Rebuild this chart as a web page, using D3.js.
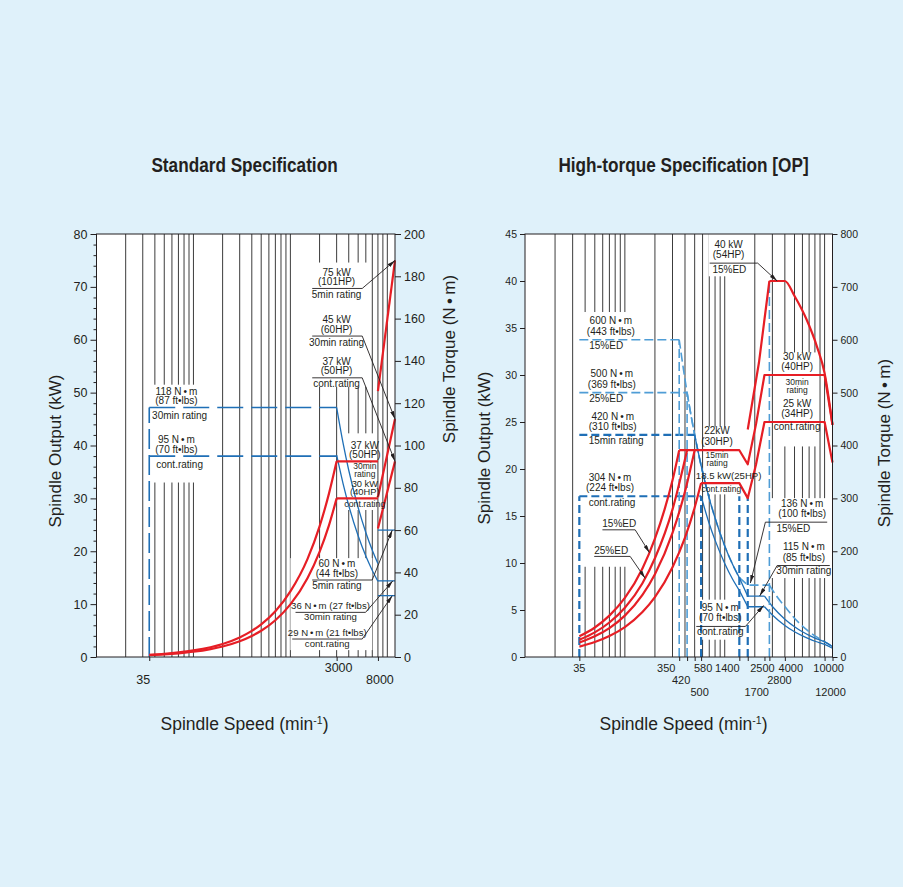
<!DOCTYPE html>
<html><head><meta charset="utf-8">
<script src="https://cdn.jsdelivr.net/npm/d3@7"></script>
<style>
html,body{margin:0;padding:0;background:#dff1fa;}
svg{display:block;}
text{font-family:"Liberation Sans",Arial,sans-serif;fill:#231f20;}
</style></head><body>
<svg id="c" width="903" height="887"></svg>
<script>
// ---------------- data ----------------
const gridSpeeds = [20,30,40,50,60,70,80,90,100,200,300,400,500,600,700,800,900,1000,2000,3000,4000,5000,6000,7000,8000,9000,10000];

// Standard specification
const stdPowerTicks = [0,10,20,30,40,50,60,70,80];
const stdTorqueTicks = [0,20,40,60,80,100,120,140,160,180,200];
const stdSpeedTicks = [35,3000,8000];
const stdSpeedRow = [1,0,1];
const stdSpeedDx = [-6,2,2];
// output (kW) vs speed (min-1)
const stdP30minRise = [[35,0.43],[50,0.62],[70,0.87],[100,1.24],[150,1.85],[200,2.47],[300,3.71],[400,4.94],[500,6.18],[700,8.65],[1000,12.4],[1500,18.5],[2000,24.7],[2500,30.9],[3000,37]];
const stdP30minFlat = [[3000,37],[8000,37]];
const stdP30minHigh = [[8000,30.2],[12000,45]];
const stdPcontRise = [[35,0.35],[50,0.5],[70,0.7],[100,0.99],[150,1.49],[200,1.99],[300,2.98],[400,3.98],[500,4.97],[700,6.96],[1000,9.95],[1500,14.9],[2000,19.9],[2500,24.9],[3000,30]];
const stdPcontFlat = [[3000,30],[8000,30]];
const stdPcontHigh = [[8000,24.3],[12000,37]];
const stdP5minHigh = [[8000,50.3],[12000,75]];
// torque (N·m) vs speed
const stdTbase = [[35,0],[35,118]];
const stdT30min = [[35,118],[3000,118]];
const stdT30minFall = [[3000,118],[3500,101],[4000,88.3],[5000,70.7],[6000,58.9],[7000,50.5],[8000,44.2]];
const stdT30minHigh = [[8000,36],[12000,36]];
const stdTcont = [[35,95],[3000,95]];
const stdTcontFall = [[3000,95.5],[3500,81.9],[4000,71.6],[5000,57.3],[6000,47.7],[7000,40.9],[8000,35.8]];
const stdTcontHigh = [[8000,29],[12000,29]];
const stdT5minHigh = [[8000,60],[12000,60]];

// High-torque specification
const htPowerTicks = [0,5,10,15,20,25,30,35,40,45];
const htTorqueTicks = [0,100,200,300,400,500,600,700,800];
const htSpeedTicks = [35,350,420,500,580,1400,1700,2500,2800,4000,10000,12000];
const htSpeedRow = [0,0,1,2,0,0,2,0,1,0,0,2];
const htSpeedDx = [0,-13,-6,5,2,-12,9,-2,10,6,4,-2];
const htP15ED = [[35,2.2],[50,3.14],[70,4.4],[100,6.28],[150,9.42],[200,12.6],[250,15.7],[300,18.8],[350,22]];
const htP25ED = [[35,1.83],[50,2.62],[70,3.67],[100,5.24],[150,7.85],[200,10.5],[300,15.7],[420,22]];
const htP15min = [[35,1.54],[50,2.2],[70,3.08],[100,4.4],[150,6.6],[200,8.8],[300,13.2],[400,17.6],[500,22]];
const htP15minHigh = [[350,22],[1400,22],[1700,20.5],[2060,24.8],[2500,30],[10000,30],[12000,24.7]];
const htPcont = [[35,1.11],[50,1.59],[70,2.23],[100,3.18],[150,4.78],[200,6.37],[300,9.55],[400,12.7],[500,15.9],[580,18.5]];
const htPcontHigh = [[580,18.5],[1400,18.5],[1700,16.9],[2060,20.5],[2500,25],[10000,25],[12000,20.7]];
const htP15EDRise = [[1700,24.2],[2200,31.3],[2800,40]];
const htP15EDHigh = [[2800,40],[4000,40],[5000,38.4],[6600,35.9],[8400,33],[10000,30.2],[12000,24.7]];

const htT15ED = [[35,600],[350,600]];
const htT15EDFall = [[350,600],[400,525],[500,420],[600,350],[700,300],[800,263],[1000,210],[1200,175],[1400,150]];
const htT15EDMid = [[1400,150],[1700,136],[2800,136]];
const htT15EDHigh = [[2800,136],[3400,112],[4000,95.5],[5000,73.3],[6600,51.9],[8400,37.5],[10000,28.8],[12000,19.7]];
const htT25ED = [[35,500],[420,500]];
const htT25EDFall = [[420,500],[500,420],[600,350],[700,300]];
const htT15min = [[35,420],[500,420]];
const htT15minFall = [[500,420],[600,350],[700,300],[800,263],[1000,210],[1200,175],[1400,150]];
const htT15minMid = [[1400,150],[1700,115],[2500,115]];
const htT15minHigh = [[2500,115],[3000,95.5],[4000,71.6],[5000,57.3],[6000,47.7],[7000,40.9],[8000,35.8],[10000,28.6],[12000,19.7]];
const htTcont = [[35,304],[580,304]];
const htTcontFall = [[580,304],[700,252],[800,221],[1000,177],[1200,147],[1400,126]];
const htTcontMid = [[1400,126],[1700,95],[2500,95]];
const htTcontHigh = [[2500,95],[3000,79.6],[4000,59.7],[5000,47.7],[6000,39.8],[7000,34.1],[8000,29.8],[10000,23.9],[12000,16.5]];
// vertical boundaries [speed, torque top]
const htVertLight = [[350,600],[420,500],[2800,711]];
const htVertDark = [[35,304],[580,304],[1400,304],[1700,304]];

// ---------------- drawing ----------------
const svg = d3.select("#c");
const RED = "#e61e25", BLUE = "#1f6fb6", LBLUE = "#4f9dd6";
svg.append("rect").attr("width",903).attr("height",887).attr("fill","#dff1fa");

const defs = svg.append("defs");
defs.append("marker").attr("id","arr").attr("viewBox","0 0 8 4").attr("refX",8).attr("refY",2)
  .attr("markerWidth",8).attr("markerHeight",4).attr("markerUnits","userSpaceOnUse").attr("orient","auto")
  .append("path").attr("d","M0,0L8,2L0,4z").attr("fill","#231f20");

const bullet = "\u2009\u2022\u2009";
const dot = "\u2022";

function chart(o){
  const x = d3.scaleLog().domain([10,12000]).range([o.left,o.right]);
  const yP = d3.scaleLinear().domain([0,o.pMax]).range([o.bottom,o.top]);
  const yT = d3.scaleLinear().domain([0,o.tMax]).range([o.bottom,o.top]);
  const g = svg.append("g");
  g.append("rect").attr("x",o.left).attr("y",o.top).attr("width",o.right-o.left).attr("height",o.bottom-o.top).attr("fill","#fff");
  g.append("g").selectAll("line").data(gridSpeeds).join("line")
    .attr("x1",d=>x(d)).attr("x2",d=>x(d)).attr("y1",o.top).attr("y2",o.bottom)
    .attr("stroke","#3c3c3c").attr("stroke-width",1);
  g.append("g").selectAll("rect").data(o.masks).join("rect")
    .attr("x",d=>x(d[0])).attr("width",d=>x(d[1])-x(d[0]))
    .attr("y",d=>yP(d[3])).attr("height",d=>yP(d[2])-yP(d[3])).attr("fill","#fff");

  const lineP = (curve)=>d3.line().x(d=>x(d[0])).y(d=>yP(d[1])).curve(curve||d3.curveLinear);
  const lineT = (curve)=>d3.line().x(d=>x(d[0])).y(d=>yT(d[1])).curve(curve||d3.curveLinear);
  const data = g.append("g").attr("fill","none").attr("stroke-linejoin","round");
  o.torque.forEach(s=>{
    data.append("path").attr("d",lineT(s.curve)(s.d)).attr("stroke",s.color)
      .attr("stroke-width",s.w).attr("stroke-dasharray",s.dash||null);
  });
  o.power.forEach(s=>{
    data.append("path").attr("d",lineP(s.curve)(s.d)).attr("stroke",RED).attr("stroke-width",2.2);
  });

  // frame and axes
  g.append("rect").attr("x",o.left).attr("y",o.top).attr("width",o.right-o.left).attr("height",o.bottom-o.top)
    .attr("fill","none").attr("stroke","#231f20").attr("stroke-width",1);
  const ax = (sel)=>{sel.select(".domain").remove();sel.selectAll("line").attr("stroke","#231f20");
    sel.selectAll("text").attr("fill","#231f20").attr("font-family","Liberation Sans, Arial, sans-serif").attr("font-size",o.tickFs);};
  g.append("g").attr("transform",`translate(${o.left},0)`)
    .call(d3.axisLeft(yP).tickValues(o.pTicks).tickSize(o.tick).tickPadding(o.pad)).call(ax);
  g.append("g").attr("transform",`translate(${o.right},0)`)
    .call(d3.axisRight(yT).tickValues(o.tTicks).tickSize(o.tick).tickPadding(o.pad)).call(ax);
  if(o.minor){
    g.append("g").attr("transform",`translate(${o.left},0)`)
      .call(d3.axisLeft(yP).tickValues(o.minor).tickSize(3).tickFormat("")).call(ax);
  }
  g.append("g").attr("transform",`translate(0,${o.bottom})`)
    .call(d3.axisBottom(x).tickValues(o.sTicks).tickSize(4).tickFormat("")).call(ax);
  g.append("g").selectAll("text").data(o.sTicks).join("text")
    .attr("x",(d,i)=>x(d)+o.sDx[i]).attr("y",(d,i)=>o.rowY[o.sRow[i]])
    .attr("text-anchor","middle").attr("font-size",o.sFs).text(d=>d);

  // rating labels: each label is one text block of stacked lines
  const tg = g.append("g");
  o.labels.forEach(L=>{
    const yl = (L.axis==="T"?yT:yP)(L.level);
    const fs = L.fs||o.lfs;
    const lh = L.lh||o.lh, cx = x(L.at), cxb = x(L.atB||L.at);
    const t = tg.append("text").attr("text-anchor","middle").attr("font-size",fs);
    (L.above||[]).forEach((s,i,a)=>{
      t.append("tspan").attr("x",cx).attr("y",yl-(L.ga||o.ga)-(a.length-1-i)*lh).text(s);
    });
    (L.below||[]).forEach((s,i)=>{
      t.append("tspan").attr("x",cxb).attr("y",yl+(L.gb||o.gb)+i*(L.lhb||lh))
        .attr("font-size",L.fsb||fs).text(s);
    });
    if(L.ul){
      tg.append("line").attr("x1",x(L.ul[0])).attr("x2",x(L.ul[1])).attr("y1",yl).attr("y2",yl)
        .attr("stroke","#231f20").attr("stroke-width",0.9);
      if(L.arrow){
        const sx = x(L.arrow.from==="L"?L.ul[0]:L.ul[1]);
        const ty = (L.arrow.axis==="T"?yT:yP)(L.arrow.v);
        tg.append("line").attr("x1",sx).attr("y1",yl).attr("x2",x(L.arrow.n)).attr("y2",ty)
          .attr("stroke","#231f20").attr("stroke-width",0.9).attr("marker-end","url(#arr)");
      }
    }
  });

  // titles
  g.append("text").attr("transform",`translate(${o.cx},172) scale(0.86,1)`).attr("text-anchor","middle")
    .attr("font-weight","bold").attr("font-size",20).text(o.title);
  g.append("text").attr("transform",`translate(${o.yTitleL[0]},${o.yTitleL[1]}) rotate(-90)`)
    .attr("text-anchor","middle").attr("font-size",17).text("Spindle Output (kW)");
  g.append("text").attr("transform",`translate(${o.yTitleR[0]},${o.yTitleR[1]}) rotate(-90)`)
    .attr("text-anchor","middle").attr("font-size",17).text("Spindle Torque (N"+bullet+"m)");
  const xt = g.append("text").attr("x",o.cx).attr("y",730).attr("text-anchor","middle").attr("font-size",17.5);
  xt.append("tspan").text("Spindle Speed (min");
  xt.append("tspan").attr("font-size",10.5).attr("dy",-6).text("-1");
  xt.append("tspan").attr("dy",6).text(")");
}

const M = d3.curveMonotoneX;
chart({
  title:"Standard Specification", cx:244.5,
  left:96.5, right:395, top:234, bottom:657, pMax:80, tMax:200,
  pTicks:stdPowerTicks, tTicks:stdTorqueTicks, minor:d3.range(2,80,2).filter(v=>v%10), tick:6, pad:3, tickFs:12.5,
  sTicks:stdSpeedTicks, sRow:stdSpeedRow, sDx:stdSpeedDx, rowY:[672,683.5], sFs:12.5,
  yTitleL:[61,451], yTitleR:[455,359],
  masks:[[37,150,33,51.5],[1600,6300,51.1,74.6],[3700,7600,27.8,42.3],[1000,7000,1.3,18.7]],
  torque:[
    {d:stdTbase,color:BLUE,w:1.6,dash:"20,6"},
    {d:stdT30min,color:BLUE,w:1.6,dash:"26,8"},
    {d:stdTcont,color:BLUE,w:1.6,dash:"26,8"},
    {d:stdT30minFall,color:BLUE,w:1.3,curve:M},
    {d:stdTcontFall,color:BLUE,w:1.3,curve:M},
    {d:stdT30minHigh,color:BLUE,w:1.3},
    {d:stdTcontHigh,color:BLUE,w:1.3},
    {d:stdT5minHigh,color:BLUE,w:1.3}
  ],
  power:[
    {d:stdP30minRise,curve:M},{d:stdP30minFlat},{d:stdP30minHigh},
    {d:stdPcontRise,curve:M},{d:stdPcontFlat},{d:stdPcontHigh},
    {d:stdP5minHigh}
  ],
  lfs:10, lh:9.3, ga:3.5, gb:11.5,
  labels:[
    {above:["118 N"+bullet+"m","(87 ft"+dot+"lbs)"],below:["30min rating"],at:66.8,atB:72,axis:"T",level:118},
    {above:["95 N"+bullet+"m","(70 ft"+dot+"lbs)"],below:["cont.rating"],at:66.8,atB:72,axis:"T",level:95},
    {above:["75 kW","(101HP)"],below:["5min rating"],at:2994,level:69.7,ul:[1680,5508],arrow:{from:"R",n:12000,v:75},gb:9.5},
    {above:["45 kW","(60HP)"],below:["30min rating"],at:2994,level:60.7,ul:[1680,5508],arrow:{from:"R",n:12000,v:45},gb:9.5},
    {above:["37 kW","(50HP)"],below:["cont.rating"],at:2994,level:52.8,ul:[1680,5508],arrow:{from:"R",n:12000,v:37},gb:9.5},
    {above:["37 kW","(50HP)"],below:["30min","rating"],at:5861,level:37,gb:7.8,lhb:8.3,fsb:8.5},
    {above:["30 kW","(40HP)"],below:["cont.rating"],at:5861,level:30,ga:3,lh:8.6,fs:9.3,gb:8.4,fsb:8.8},
    {above:["60 N"+bullet+"m","(44 ft"+dot+"lbs)"],below:["5min rating"],at:3020,axis:"T",level:36.4,ul:[1680,6980],arrow:{from:"R",n:11250,axis:"T",v:60},gb:8.5},
    {above:["36 N"+bullet+"m (27 ft"+dot+"lbs)"],below:["30min rating"],at:2594,axis:"T",level:21.1,ul:[1130,5960],arrow:{from:"R",n:11400,axis:"T",v:36},gb:7.5,fs:9.6},
    {above:["29 N"+bullet+"m (21 ft"+dot+"lbs)"],below:["cont.rating"],at:2400,axis:"T",level:8.5,ul:[1045,5508],arrow:{from:"R",n:11250,axis:"T",v:29},gb:7.5,fs:9.6}
  ]
});

chart({
  title:"High-torque Specification [OP]", cx:683.5,
  left:525, right:832.5, top:234, bottom:657, pMax:45, tMax:800,
  pTicks:htPowerTicks, tTicks:htTorqueTicks, minor:null, tick:5, pad:3, tickFs:10.5,
  sTicks:htSpeedTicks, sRow:htSpeedRow, sDx:htSpeedDx, rowY:[672,684,696], sFs:11,
  yTitleL:[490,448], yTitleR:[890,443],
  masks:[[38,112,9.6,36.7],[690,1950,40.5,45],[650,1900,17.3,24.5],[510,1620,1.84,6.1],[2500,11500,8.4,16.9],[3600,8800,22.4,32.4]],
  torque:[
    {d:htT15ED,color:LBLUE,w:1.6,dash:"9,4"},
    {d:htT15EDFall,color:LBLUE,w:1.6,dash:"9,4",curve:M},
    {d:htT15EDMid,color:LBLUE,w:1.6,dash:"9,4"},
    {d:htT15EDHigh,color:LBLUE,w:1.6,dash:"9,4",curve:M},
    {d:htT25ED,color:LBLUE,w:1.6,dash:"9,4"},
    {d:htT25EDFall,color:LBLUE,w:1.6,dash:"9,4",curve:M},
    {d:htT15min,color:BLUE,w:2.2,dash:"8,4"},
    {d:htT15minFall,color:BLUE,w:1.3,curve:M},
    {d:htT15minMid,color:BLUE,w:1.3},
    {d:htT15minHigh,color:BLUE,w:1.3,curve:M},
    {d:htTcont,color:BLUE,w:2.2,dash:"8,4"},
    {d:htTcontFall,color:BLUE,w:1.3,curve:M},
    {d:htTcontMid,color:BLUE,w:1.3},
    {d:htTcontHigh,color:BLUE,w:1.3,curve:M},
    ...htVertLight.map(v=>({d:[[v[0],0],[v[0],v[1]]],color:LBLUE,w:1.6,dash:"9,4"})),
    ...htVertDark.map(v=>({d:[[v[0],0],[v[0],v[1]]],color:BLUE,w:2.2,dash:"8,4"}))
  ],
  power:[
    {d:htP15ED,curve:M},{d:htP25ED,curve:M},{d:htP15min,curve:M},{d:htP15minHigh},
    {d:htPcont,curve:M},{d:htPcontHigh},{d:htP15EDRise},{d:htP15EDHigh,curve:M}
  ],
  lfs:10, lh:10.3, ga:5, gb:9.5,
  labels:[
    {above:["600 N"+bullet+"m","(443 ft"+dot+"lbs)"],below:["15%ED"],at:72.4,atB:65,axis:"T",level:600},
    {above:["500 N"+bullet+"m","(369 ft"+dot+"lbs)"],below:["25%ED"],at:74,atB:65,axis:"T",level:500},
    {above:["420 N"+bullet+"m","(310 ft"+dot+"lbs)"],below:["15min rating"],at:75.6,atB:81.8,axis:"T",level:420},
    {above:["304 N"+bullet+"m","(224 ft"+dot+"lbs)"],below:["cont.rating"],at:71,atB:74.5,axis:"T",level:304,gb:10},
    {above:["15%ED"],at:87.8,level:13.53,ga:2.7,ul:[59.6,126.8],arrow:{from:"R",n:176.6,v:11.1}},
    {above:["25%ED"],at:73,level:10.7,ga:2.7,ul:[49.3,113],arrow:{from:"R",n:159.8,v:8.37}},
    {above:["22kW","(30HP)"],below:["15min","rating"],at:837,level:22,ga:5.5,gb:7.8,lhb:8.3,fsb:8.5},
    {above:["18.5 kW(25HP)"],below:["cont.rating"],at:1094,atB:925,level:18.5,ga:4,gb:9,fsb:8.5,fs:9.6},
    {above:["136 N"+bullet+"m","(100 ft"+dot+"lbs)"],below:["15%ED"],at:5960,atB:4870,axis:"T",level:255,ul:[2553,10620],arrow:{from:"L",n:1807,axis:"T",v:139.9}},
    {above:["115 N"+bullet+"m","(85 ft"+dot+"lbs)"],below:["30min rating"],at:6200,axis:"T",level:173,ul:[3350,11270],arrow:{from:"L",n:2240,axis:"T",v:115.5},gb:8.6},
    {above:["95 N"+bullet+"m","(70 ft"+dot+"lbs)"],below:["cont.rating"],at:903,axis:"T",level:57.8,ul:[519,1611],arrow:{from:"R",n:2454,axis:"T",v:97.5},gb:8.3},
    {above:["40 kW","(54HP)"],below:["15%ED"],at:1094,atB:1112,level:41.9,ul:[706,2138],arrow:{from:"R",n:3350,v:40},gb:10},
    {above:["30 kW","(40HP)"],below:["30min","rating"],at:5310,level:30,gb:10,lhb:8.3,fsb:8.5},
    {above:["25 kW","(34HP)"],below:["cont.rating"],at:5310,level:25,gb:8}
  ]
});
</script>
</body></html>
